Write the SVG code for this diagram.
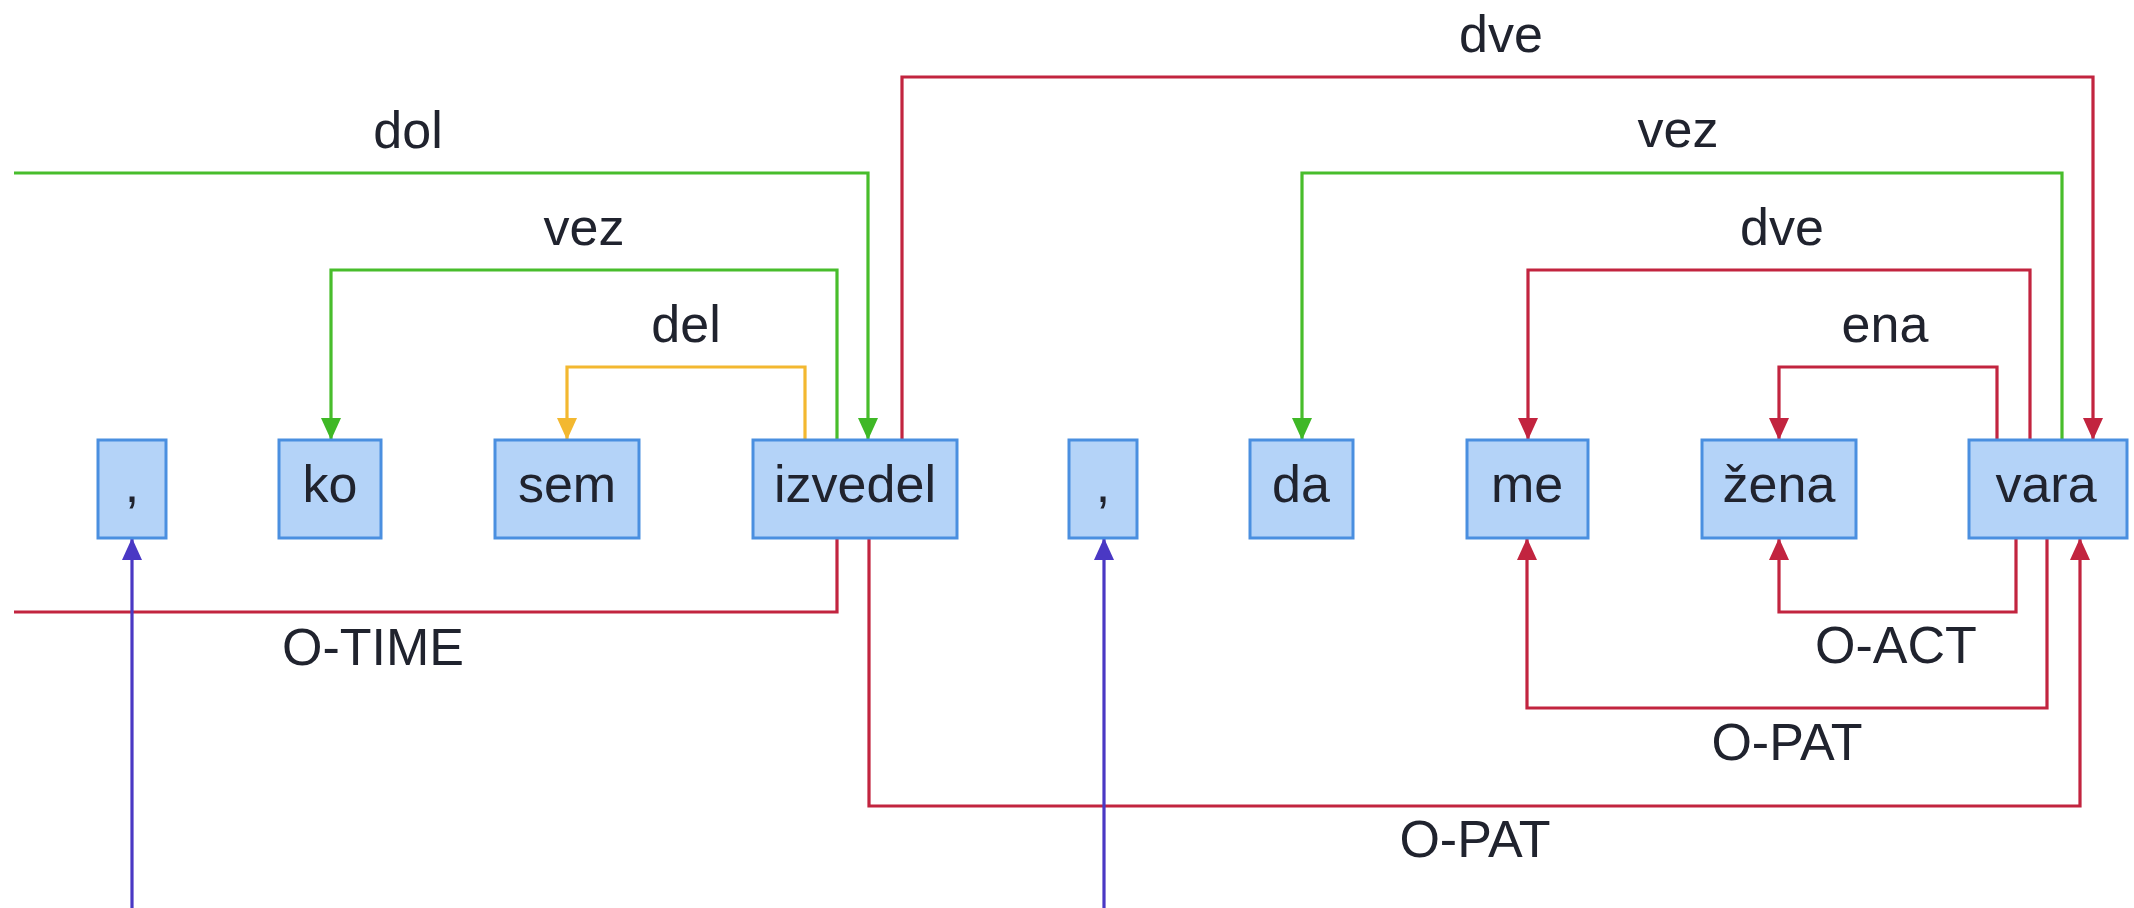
<svg xmlns="http://www.w3.org/2000/svg" width="2134" height="908" viewBox="0 0 2134 908">
<style>
.bg{fill:#ffffff}
.box{fill:#b4d3f8;stroke:#4a8fe0;stroke-width:3}
.t{font-family:"Liberation Sans",Arial,sans-serif;font-size:52px;fill:#20232e;text-anchor:middle}
.c{fill:none;stroke-width:3.2;stroke-linejoin:miter}
.red{stroke:#c2243f}
.grn{stroke:#48bd2c}
.yel{stroke:#f3b830}
.blu{stroke:#4a38c4}
</style>
<defs>
<marker id="aR" viewBox="0 0 22 22" refX="22" refY="11" markerWidth="22" markerHeight="22" markerUnits="userSpaceOnUse" orient="auto"><path d="M0,1 L22,11 L0,21 z" fill="#c2243f"/></marker>
<marker id="aG" viewBox="0 0 22 22" refX="22" refY="11" markerWidth="22" markerHeight="22" markerUnits="userSpaceOnUse" orient="auto"><path d="M0,1 L22,11 L0,21 z" fill="#3fb826"/></marker>
<marker id="aY" viewBox="0 0 22 22" refX="22" refY="11" markerWidth="22" markerHeight="22" markerUnits="userSpaceOnUse" orient="auto"><path d="M0,1 L22,11 L0,21 z" fill="#f3b830"/></marker>
<marker id="aB" viewBox="0 0 22 22" refX="22" refY="11" markerWidth="22" markerHeight="22" markerUnits="userSpaceOnUse" orient="auto"><path d="M0,1 L22,11 L0,21 z" fill="#4a38c4"/></marker>
</defs>
<rect class="bg" x="0" y="0" width="2134" height="908"/>
<g id="connectors">
<path class="c grn" d="M14,173 H868 V440" marker-end="url(#aG)"/>
<path class="c grn" d="M837,440 V270 H331 V440" marker-end="url(#aG)"/>
<path class="c yel" d="M805,440 V367 H567 V440" marker-end="url(#aY)"/>
<path class="c red" d="M902,440 V77 H2093 V440" marker-end="url(#aR)"/>
<path class="c grn" d="M2062,440 V173 H1302 V440" marker-end="url(#aG)"/>
<path class="c red" d="M2030,440 V270 H1528 V440" marker-end="url(#aR)"/>
<path class="c red" d="M1997,440 V367 H1779 V440" marker-end="url(#aR)"/>
<path class="c red" d="M837,538 V612 H14"/>
<path class="c red" d="M869,538 V806 H2080 V538" marker-end="url(#aR)"/>
<path class="c red" d="M2047,538 V708 H1527 V538" marker-end="url(#aR)"/>
<path class="c red" d="M2016,538 V612 H1779 V538" marker-end="url(#aR)"/>
<path class="c blu" d="M132,908 V538" marker-end="url(#aB)"/>
<path class="c blu" d="M1104,908 V538" marker-end="url(#aB)"/>
<text class="t" x="408" y="148">dol</text>
<text class="t" x="584" y="245">vez</text>
<text class="t" x="686" y="342">del</text>
<text class="t" x="1501" y="52">dve</text>
<text class="t" x="1678" y="147">vez</text>
<text class="t" x="1782" y="245">dve</text>
<text class="t" x="1885" y="342">ena</text>
<text class="t" x="373" y="665">O-TIME</text>
<text class="t" x="1896" y="663">O-ACT</text>
<text class="t" x="1787" y="760">O-PAT</text>
<text class="t" x="1475" y="857">O-PAT</text>
</g>
<g id="n-comma1"><rect class="box" x="98" y="440" width="68" height="98"/><text class="t" x="132" y="502">,</text></g>
<g id="n-ko"><rect class="box" x="279" y="440" width="102" height="98"/><text class="t" x="330" y="502">ko</text></g>
<g id="n-sem"><rect class="box" x="495" y="440" width="144" height="98"/><text class="t" x="567" y="502">sem</text></g>
<g id="n-izvedel"><rect class="box" x="753" y="440" width="204" height="98"/><text class="t" x="855" y="502">izvedel</text></g>
<g id="n-comma2"><rect class="box" x="1069" y="440" width="68" height="98"/><text class="t" x="1103" y="502">,</text></g>
<g id="n-da"><rect class="box" x="1250" y="440" width="103" height="98"/><text class="t" x="1301" y="502">da</text></g>
<g id="n-me"><rect class="box" x="1467" y="440" width="121" height="98"/><text class="t" x="1527" y="502">me</text></g>
<g id="n-zena"><rect class="box" x="1702" y="440" width="154" height="98"/><text class="t" x="1779" y="502">žena</text></g>
<g id="n-vara"><rect class="box" x="1969" y="440" width="158" height="98"/><text class="t" x="2046" y="502">vara</text></g>
</svg>
